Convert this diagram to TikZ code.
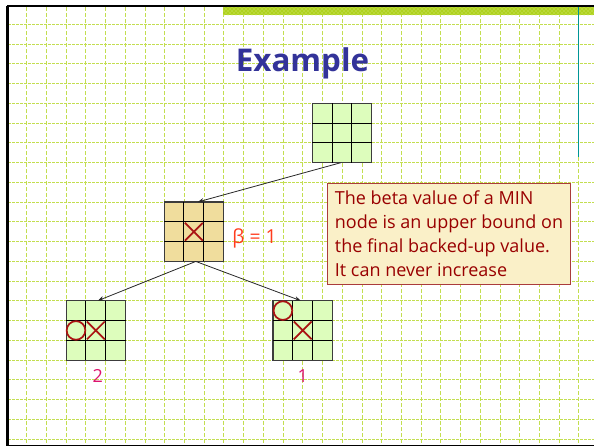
\documentclass[tikz,border=0pt]{standalone}
\usepackage{fontspec}
\setmainfont{Open Sans}
\usetikzlibrary{arrows.meta,calc,patterns}
\definecolor{gridc}{RGB}{195,222,80}
\definecolor{bandc}{RGB}{175,210,30}
\definecolor{bandl}{RGB}{220,238,150}
\definecolor{tealc}{RGB}{0,150,150}
\definecolor{titlec}{RGB}{51,51,153}
\definecolor{boardg}{RGB}{221,253,188}
\definecolor{boardt}{RGB}{240,221,157}
\definecolor{boardedge}{RGB}{60,60,60}
\definecolor{arrc}{RGB}{40,40,40}
\definecolor{xoc}{RGB}{170,20,20}
\definecolor{betac}{RGB}{255,60,30}
\definecolor{digitc}{RGB}{220,20,110}
\definecolor{boxfill}{RGB}{250,240,200}
\definecolor{boxdraw}{RGB}{170,60,60}
\definecolor{boxtext}{RGB}{153,0,0}
\newcommand\boardlines[1]{%
  \foreach \fr in {1/3,2/3}{%
    \draw[cellline] ($(#1.north west)!\fr!(#1.north east)$) -- ($(#1.south west)!\fr!(#1.south east)$);
    \draw[cellline] ($(#1.north west)!\fr!(#1.south west)$) -- ($(#1.north east)!\fr!(#1.south east)$);
  }}
\newcommand\xmk[3]{\draw[xostyle] ($(#1.north west)+(#2*19.83+1,#3*19.83+1)$) -- ++(17.83,17.83)
   ($(#1.north west)+(#2*19.83+18.83,#3*19.83+1)$) -- ++(-17.83,17.83);}
\newcommand\omk[3]{\draw[xostyle] ($(#1.north west)+(#2*19.83+9.92,#3*19.83+9.92)$) circle[radius=7pt];}
\begin{document}
\begin{tikzpicture}[x=0.75pt,y=-0.75pt,
  vgrid/.style={gridc, line width=0.65pt, dash pattern=on 3pt off 1.5pt},
  hgrid/.style={gridc, line width=0.65pt, dash pattern=on 2pt off 1pt},
  board/.style={draw=boardedge, line width=0.8pt, minimum size=44.6pt, inner sep=0pt, outer sep=0pt},
  cellline/.style={black, line width=0.75pt},
  xostyle/.style={xoc, line width=1.3pt},
  arr/.style={arrc, line width=0.6pt, -{Stealth[length=4.5pt,width=3.5pt]}},
  lbl/.style={inner sep=0pt, font=\fontsize{13.5pt}{16pt}\selectfont}
]
\useasboundingbox (0,0) rectangle (594,447);
\fill[white] (0,0) rectangle (594,447);
% grid
\foreach \i in {0,...,28} \draw[vgrid] ({26.7+19.72*\i},7) -- ++(0,438);
\foreach \j in {0,...,21} \draw[hgrid] (8,{24.3+19.75*\j}) -- (594,{24.3+19.75*\j});
% band
\fill[bandc] (223,7) rectangle (594,15);
\fill[pattern=crosshatch dots, pattern color=bandl] (223,7) rectangle (594,15);
% borders
\draw[black, line width=1.6pt] (7.5,5.5) -- (7.5,445.5);
\draw[black, line width=1.4pt] (7,6) -- (594,6);
\draw[black, line width=1.2pt] (7,445.5) -- (594,445.5);
\draw[tealc, line width=0.8pt] (578.3,7) -- (578.3,157);
% title
\node[font=\fontsize{23.5pt}{28pt}\selectfont\bfseries, text=titlec, anchor=base] (title) at (302.5,71.5) {Example};
% boards
\node[board, fill=boardg] (top) at (342,133) {};
\node[board, fill=boardt] (mid) at (193.8,231.7) {};
\node[board, fill=boardg] (left) at (95.8,330.4) {};
\node[board, fill=boardg] (right) at (302.7,330.4) {};
\boardlines{top}
\boardlines{mid}
\boardlines{left}
\boardlines{right}
\xmk{mid}{1}{1}
\omk{left}{0}{1}
\xmk{left}{1}{1}
\omk{right}{0}{0}
\xmk{right}{1}{1}
% arrows
\draw[arr] ([xshift=-1pt]top.south) -- ([xshift=3pt]mid.north);
\draw[arr] ([xshift=1.5pt]mid.south) -- ([xshift=1.5pt]left.north);
\draw[arr] ([xshift=1.5pt]mid.south) -- ([xshift=-1.5pt]right.north);
% labels
\node[lbl, text=betac, font=\fontsize{14.5pt}{16pt}\selectfont] (beta) at (254.5,238) {β = 1};
\node[lbl, text=digitc] (v2) at (97.7,376) {2};
\node[lbl, text=digitc] (v1) at (302.7,376) {1};
% text box
\node[draw=boxdraw, fill=boxfill, line width=0.6pt, minimum width=182.5pt, minimum height=75.75pt,
      inner xsep=4.5pt, inner ysep=1pt, align=left, text=boxtext,
      font=\fontsize{13.5pt}{18pt}\selectfont] (note) at (449,233.8)
  {The beta value of a MIN\\node is an upper bound on\\the final backed-up value.\\It can never increase};
\end{tikzpicture}
\end{document}
